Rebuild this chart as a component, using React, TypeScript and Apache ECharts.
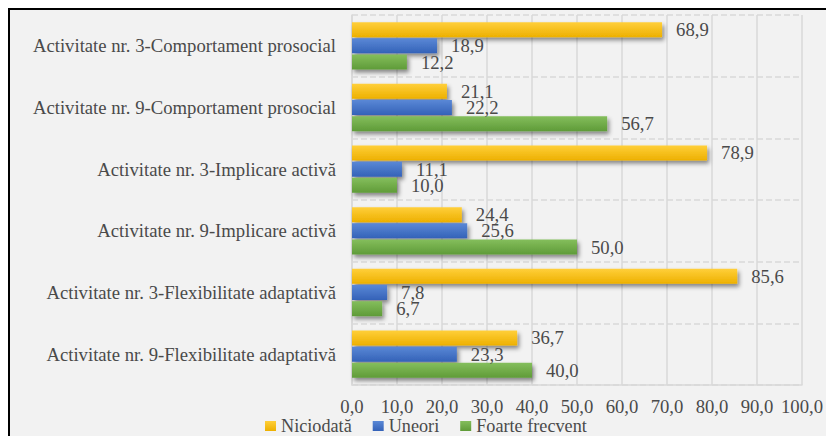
import React, { useEffect, useRef } from "react";
import * as echarts from "echarts";

const categories = [
  "Activitate nr. 3-Comportament prosocial",
  "Activitate nr. 9-Comportament prosocial",
  "Activitate nr. 3-Implicare activă",
  "Activitate nr. 9-Implicare activă",
  "Activitate nr. 3-Flexibilitate adaptativă",
  "Activitate nr. 9-Flexibilitate adaptativă",
];
const niciodata = [68.9, 21.1, 78.9, 24.4, 85.6, 36.7];
const uneori = [18.9, 22.2, 11.1, 25.6, 7.8, 23.3];
const foarteFrecvent = [12.2, 56.7, 10.0, 50.0, 6.7, 40.0];
const seriesNames = ["Niciodată", "Uneori", "Foarte frecvent"];
const xTicks = { min: 0, max: 100, interval: 10 };

const FONT = "Liberation Serif";
const TXT = "#4a4a4a";
const FS = 18.7;

const fmt = (v: number) => v.toFixed(1).replace(".", ",");

const grad = (top: string, bottom: string) =>
  new echarts.graphic.LinearGradient(0, 0, 0, 1, [
    { offset: 0, color: top },
    { offset: 1, color: bottom },
  ]);

export default function App() {
  const ref = useRef<HTMLDivElement>(null);
  useEffect(() => {
    if (!ref.current) return;
    const chart = echarts.init(ref.current, undefined, { renderer: "svg" });
    const mk = (name: string, data: number[], top: string, bottom: string, solid: string) => ({
      name,
      type: "bar",
      data,
      barWidth: 15,
      barGap: "8%",
      itemStyle: {
        color: grad(top, bottom),
        shadowColor: "rgba(0,0,0,0.45)",
        shadowBlur: 4,
        shadowOffsetX: 2,
        shadowOffsetY: 3,
      },
      label: {
        show: true,
        position: "right",
        distance: 14,
        formatter: (p: any) => fmt(p.value),
        fontFamily: FONT,
        fontSize: FS,
        lineHeight: 14,
        color: TXT,
      },
      color: solid,
    });
    chart.setOption({
      animation: false,
      backgroundColor: "#f2f2f2",
      textStyle: { fontFamily: FONT },
      grid: { left: 342, right: 32, top: 5, bottom: 51, containLabel: false },
      legend: {
        data: seriesNames,
        left: 255,
        top: 407,
        padding: 0,
        itemWidth: 11,
        itemHeight: 10,
        itemGap: 21,
        icon: "rect",
        textStyle: { fontFamily: FONT, fontSize: 18.2, color: TXT, lineHeight: 17 },
      },
      xAxis: {
        type: "value",
        min: xTicks.min,
        max: xTicks.max,
        interval: xTicks.interval,
        axisLine: { show: true, lineStyle: { color: "#d9d9d9", width: 1.5 } },
        axisTick: { show: false },
        axisLabel: {
          formatter: (v: number) => fmt(v),
          fontFamily: FONT,
          fontSize: FS,
          color: TXT,
          margin: 13,
          lineHeight: 17,
        },
        splitLine: { show: true, lineStyle: { color: "#d9d9d9", width: 1.5 } },
      },
      yAxis: {
        type: "category",
        data: categories,
        inverse: true,
        axisLine: { show: true, lineStyle: { color: "#d9d9d9", width: 1.5 } },
        axisTick: { show: false },
        axisLabel: { fontFamily: FONT, fontSize: FS, color: TXT, margin: 16 },
        splitLine: { show: true, lineStyle: { color: "#d9d9d9", width: 1.5, type: [6, 3] } },
      },
      series: [
        mk(seriesNames[0], niciodata, "#FFCF3A", "#EDB000", "#FFC000"),
        mk(seriesNames[1], uneori, "#5A88D6", "#3462B8", "#4472C4"),
        mk(seriesNames[2], foarteFrecvent, "#84BE5C", "#5F9B38", "#70AD47"),
      ],
    });
    return () => chart.dispose();
  }, []);
  return (
    <div
      style={{
        width: 826,
        height: 428,
        borderTop: "2px solid #000",
        borderLeft: "2px solid #000",
        boxSizing: "border-box",
        background: "#f2f2f2",
        overflow: "hidden",
      }}
    >
      <div ref={ref} style={{ width: 824, height: 426 }} />
    </div>
  );
}
